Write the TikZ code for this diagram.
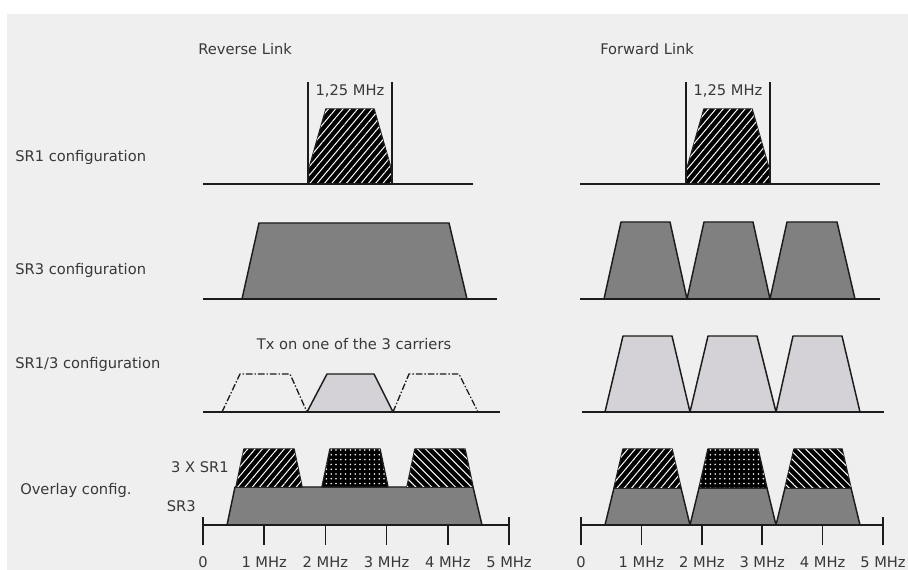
\documentclass[tikz,border=0pt]{standalone}
\usepackage{fontspec}
\setmainfont{DejaVu Sans}
\usetikzlibrary{patterns.meta}
\definecolor{panelGray}{HTML}{EFEFEF}
\definecolor{inkGray}{HTML}{1C1C1C}
\definecolor{textGray}{HTML}{383838}
\definecolor{darkFill}{HTML}{808080}
\definecolor{lightFill}{HTML}{D4D2D6}
\begin{document}
\begin{tikzpicture}
[x=0.75pt,y=-0.75pt,%
  lineDecorate/.style={draw=inkGray,line width=1.1pt},%
  bandDecorate/.style={draw=inkGray,line width=1.1pt,line join=round},%
  idleDecorate/.style={draw=inkGray,line width=1pt,dash pattern=on 5pt off 1.5pt on 1pt off 1.5pt},%
  hatchRight/.style={bandDecorate,fill=black,postaction={pattern={Lines[angle=50,distance=4.2pt,line width=0.75pt]},pattern color=white}},%
  hatchLeft/.style={bandDecorate,fill=black,postaction={pattern={Lines[angle=-45,distance=4.2pt,line width=0.75pt]},pattern color=white}},%
  hatchDots/.style={bandDecorate,fill=black,postaction={pattern={Dots[distance=3.6pt,radius=0.65pt]},pattern color=white}},%
  labelText/.style={text=textGray,font=\fontsize{11}{13}\selectfont,inner sep=0pt}]
%% page and panel background
\useasboundingbox (0,0) rectangle (908,570);
\fill[panelGray] (7,14) rectangle (908,570);
%% titles and row captions
\node[labelText,anchor=base west] (revTitle) at (198,55) {Reverse Link};
\node[labelText,anchor=base west] (fwdTitle) at (600,55) {Forward Link};
\node[labelText,anchor=base west] (capSRone) at (15,162) {SR1 configuration};
\node[labelText,anchor=base west] (capSRthree) at (15,275) {SR3 configuration};
\node[labelText,anchor=base west] (capSRmix) at (15,369) {SR1/3 configuration};
\node[labelText,anchor=base west] (capOverlay) at (20,495) {Overlay config.};
\node[labelText,anchor=base east] (capThreeSR) at (229,473) {3 X SR1};
\node[labelText,anchor=base east] (capSRbase) at (196,512) {SR3};
\node[labelText,anchor=base] (txNote) at (354,350) {Tx on one of the 3 carriers};
%% SR1: one 1.25 MHz carrier
\foreach \name/\l/\r/\s/\e in {revWidth/308/392/203/473, fwdWidth/686/770/580/880}
{
  \draw[hatchRight] (\l,184) -- (\l,172) -- (\l+18,109) -- (\r-18,109) -- (\r,172) -- (\r,184) -- cycle;
  \draw[lineDecorate] (\l,82) -- (\l,184);
  \draw[lineDecorate] (\r,82) -- (\r,184);
  \node[labelText,anchor=base] (\name) at ({(\l+\r)/2},96) {1,25 MHz};
  \draw[lineDecorate] (\s,184) -- (\e,184);
}
%% SR3: one wide carrier / three carriers
\draw[bandDecorate,fill=darkFill] (242,299) -- (259,223) -- (449,223) -- (467,299) -- cycle;
\foreach \a/\b/\c/\d in {604/621/670/687, 687/704/753/770, 770/787/837/855}
  \draw[bandDecorate,fill=darkFill] (\a,299) -- (\b,222) -- (\c,222) -- (\d,299) -- cycle;
\draw[lineDecorate] (203,299) -- (497,299);
\draw[lineDecorate] (580,299) -- (880,299);
%% SR1/3: one active carrier out of three
\draw[idleDecorate] (222,412) -- (240,374) -- (290,374) -- (307,412);
\draw[idleDecorate] (393,412) -- (409,374) -- (459,374) -- (478,412);
\draw[bandDecorate,fill=lightFill] (307,412) -- (327,374) -- (374,374) -- (393,412) -- cycle;
\foreach \a/\b/\c/\d in {605/623/672/690, 690/708/757/776, 776/793/842/860}
  \draw[bandDecorate,fill=lightFill] (\a,412) -- (\b,336) -- (\c,336) -- (\d,412) -- cycle;
\draw[lineDecorate] (203,412) -- (500,412);
\draw[lineDecorate] (582,412) -- (884,412);
%% overlay: SR1 carriers stacked on SR3
\draw[bandDecorate,fill=darkFill] (227,525) -- (235,487) -- (473,487) -- (482,525) -- cycle;
\draw[hatchRight] (236,487) -- (244,449) -- (294,449) -- (302,487) -- cycle;
\draw[hatchDots] (322,487) -- (330,449) -- (380,449) -- (388,487) -- cycle;
\draw[hatchLeft] (407,487) -- (415,449) -- (465,449) -- (473,487) -- cycle;
\foreach \a/\b/\c/\d/\style in {605/614/681/690/hatchRight, 690/699/767/776/hatchDots, 776/785/851/860/hatchLeft}
{
  \draw[bandDecorate,fill=darkFill] (\a,525) -- (\b,488) -- (\c,488) -- (\d,525) -- cycle;
  \draw[\style] (\b,488) -- (\b+9,449) -- (\c-9,449) -- (\c,488) -- cycle;
}
%% frequency axes
\foreach \start/\step/\side in {203/61.2/rev, 581/60.4/fwd}
{
  \draw[lineDecorate] (\start,525) -- (\start+5*\step,525);
  \draw[lineDecorate] (\start,517) -- (\start,545);
  \draw[lineDecorate] (\start+5*\step,517) -- (\start+5*\step,545);
  \foreach \i in {1,...,4}
    \draw[lineDecorate] (\start+\i*\step,525) -- (\start+\i*\step,545);
  \node[labelText,anchor=base] (\side0) at (\start,568) {0};
  \foreach \i in {1,...,5}
    \node[labelText,anchor=base] (\side\i) at (\start+\i*\step,568) {\i~MHz};
}
\end{tikzpicture}
\end{document}
